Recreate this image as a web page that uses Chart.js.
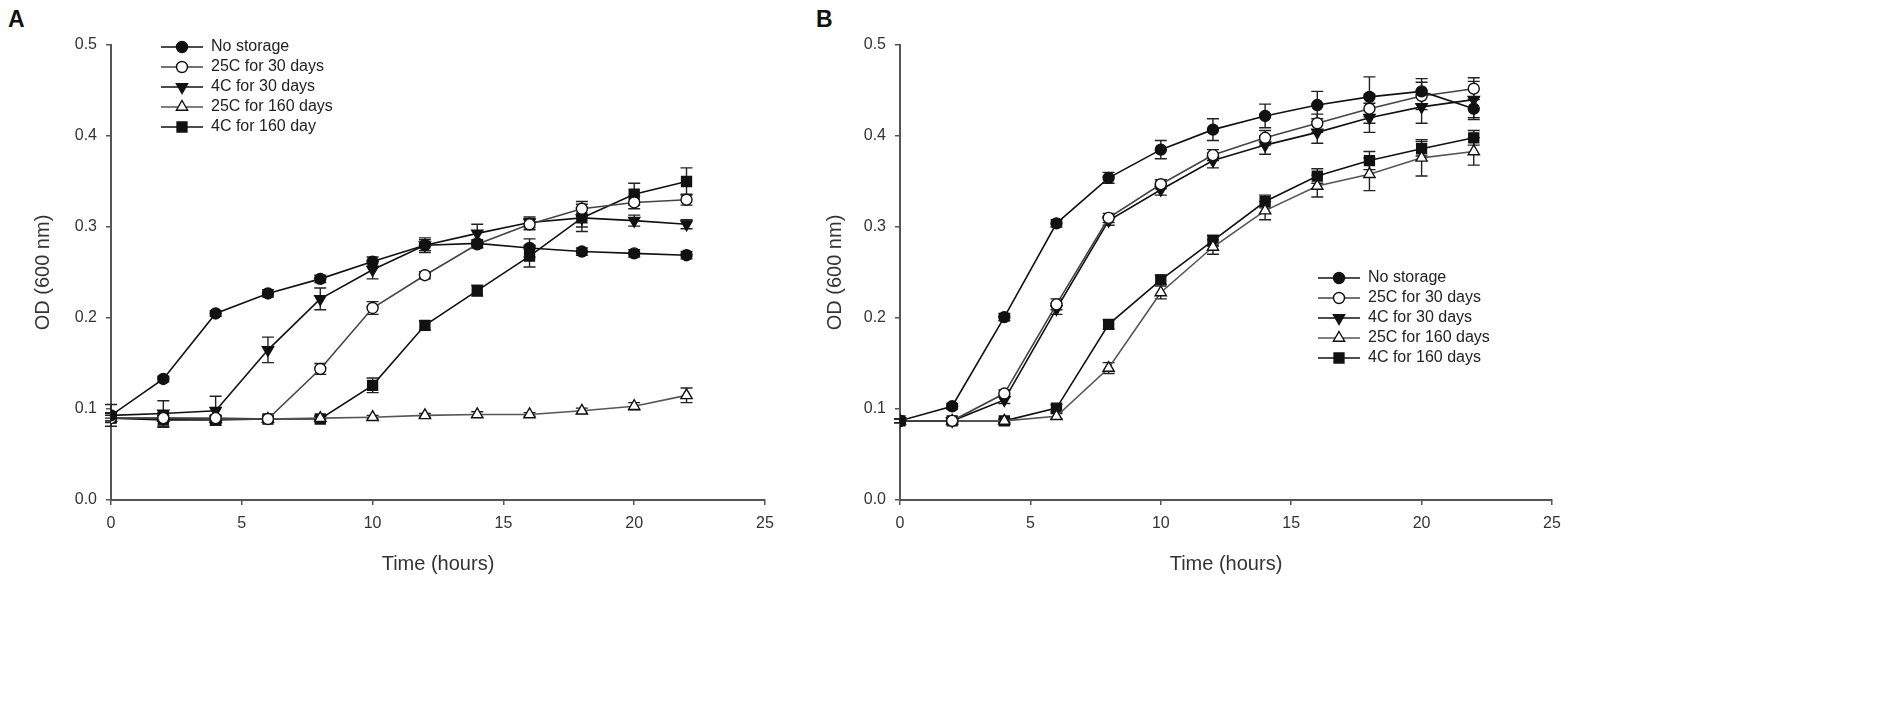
<!DOCTYPE html>
<html>
<head>
  <title>OD growth curves</title>
  <style>
    body { margin: 0; background: #fff; width: 1901px; height: 709px; overflow: hidden; position: relative; font-family: 'Liberation Sans', Arial, sans-serif; }
    .panel-label { position: absolute; top: 6px; font-size: 23px; font-weight: bold; color: #111; }
    canvas { position: absolute; top: 0; }
  </style>
</head>
<body>

  <div class="panel-label" style="left:8px">A</div>
  <div class="panel-label" style="left:816px">B</div>
  <canvas id="chartA" width="800" height="709" style="left:0"></canvas>
  <canvas id="chartB" width="1111" height="709" style="left:790px"></canvas>

  <script src="https://cdn.jsdelivr.net/npm/chart.js"></script>
  <script>
    // sampling times (hours)
    const hours = [0, 2, 4, 6, 8, 10, 12, 14, 16, 18, 20, 22];

    const labelsA = ["No storage", "25C for 30 days", "4C for 30 days", "25C for 160 days", "4C for 160 day"];
    const labelsB = ["No storage", "25C for 30 days", "4C for 30 days", "25C for 160 days", "4C for 160 days"];

    const yTicks = [0.0, 0.1, 0.2, 0.3, 0.4, 0.5];
    const xTicks = [0, 5, 10, 15, 20, 25];

    // panel A - OD(600) means
    const a_noStorage = [0.093, 0.133, 0.205, 0.227, 0.243, 0.262, 0.280, 0.282, 0.277, 0.273, 0.271, 0.269];
    const a_25c30     = [0.090, 0.090, 0.090, 0.089, 0.144, 0.211, 0.247, 0.281, 0.303, 0.320, 0.327, 0.330];
    const a_4c30      = [0.093, 0.095, 0.098, 0.165, 0.221, 0.253, 0.280, 0.293, 0.305, 0.310, 0.307, 0.303];
    const a_25c160    = [0.090, 0.090, 0.089, 0.089, 0.090, 0.091, 0.093, 0.094, 0.094, 0.098, 0.103, 0.115];
    const a_4c160     = [0.090, 0.088, 0.088, 0.089, 0.089, 0.126, 0.192, 0.230, 0.268, 0.310, 0.336, 0.350];

    // panel A - error bars
    const aErr_noStorage = [0.003, 0.003, 0.003, 0.004, 0.004, 0.005, 0.006, 0.004, 0.010, 0.004, 0.004, 0.004];
    const aErr_25c30     = [0.003, 0.003, 0.003, 0.003, 0.006, 0.007, 0.004, 0.004, 0.006, 0.008, 0.007, 0.006];
    const aErr_4c30      = [0.012, 0.014, 0.016, 0.014, 0.012, 0.010, 0.008, 0.010, 0.006, 0.010, 0.006, 0.005];
    const aErr_25c160    = [0.003, 0.003, 0.003, 0.002, 0.002, 0.002, 0.002, 0.003, 0.002, 0.003, 0.004, 0.008];
    const aErr_4c160     = [0.005, 0.008, 0.004, 0.003, 0.003, 0.008, 0.005, 0.006, 0.012, 0.015, 0.012, 0.015];

    // panel B - OD(600) means
    const b_noStorage = [0.087, 0.103, 0.201, 0.304, 0.354, 0.385, 0.407, 0.422, 0.434, 0.443, 0.449, 0.430];
    const b_25c30     = [0.087, 0.087, 0.117, 0.215, 0.310, 0.347, 0.379, 0.398, 0.414, 0.430, 0.444, 0.452];
    const b_4c30      = [0.087, 0.087, 0.110, 0.210, 0.307, 0.341, 0.373, 0.390, 0.404, 0.420, 0.432, 0.440];
    const b_25c160    = [0.087, 0.087, 0.087, 0.092, 0.145, 0.228, 0.278, 0.318, 0.345, 0.358, 0.376, 0.383];
    const b_4c160     = [0.087, 0.087, 0.087, 0.101, 0.193, 0.242, 0.285, 0.328, 0.356, 0.373, 0.386, 0.398];

    // panel B - error bars
    const bErr_noStorage = [0.002, 0.003, 0.004, 0.004, 0.006, 0.010, 0.012, 0.013, 0.015, 0.022, 0.014, 0.012];
    const bErr_25c30     = [0.002, 0.002, 0.004, 0.006, 0.005, 0.005, 0.006, 0.008, 0.010, 0.016, 0.015, 0.012];
    const bErr_4c30      = [0.002, 0.002, 0.004, 0.006, 0.005, 0.006, 0.008, 0.010, 0.012, 0.016, 0.018, 0.020];
    const bErr_25c160    = [0.002, 0.002, 0.002, 0.003, 0.006, 0.007, 0.008, 0.010, 0.012, 0.018, 0.020, 0.015];
    const bErr_4c160     = [0.002, 0.002, 0.002, 0.004, 0.005, 0.005, 0.006, 0.007, 0.008, 0.010, 0.008, 0.008];

    Chart.defaults.font.family = "'Liberation Sans', Arial, sans-serif";
    Chart.defaults.color = "#333";

    // marker look for the 5 series (same order as labels)
    const markers = [
      { style: "circle",   fill: "#111", rot: 0,   r: 5.5, line: "#111" },
      { style: "circle",   fill: "#fff", rot: 0,   r: 5.5, line: "#444" },
      { style: "triangle", fill: "#111", rot: 180, r: 6.5, line: "#111" },
      { style: "triangle", fill: "#fff", rot: 0,   r: 6.5, line: "#555" },
      { style: "rect",     fill: "#111", rot: 0,   r: 7,   line: "#111" }
    ];

    // small line+marker picture for the legend
    function legendIcon(m) {
      const c = document.createElement("canvas");
      c.width = 42; c.height = 16;
      const ctx = c.getContext("2d");
      ctx.strokeStyle = m.line;
      ctx.lineWidth = 1.6;
      ctx.beginPath(); ctx.moveTo(0, 8); ctx.lineTo(42, 8); ctx.stroke();
      ctx.fillStyle = m.fill;
      ctx.strokeStyle = "#111";
      ctx.lineWidth = 1.4;
      Chart.helpers.drawPoint(ctx, { pointStyle: m.style, radius: m.r, rotation: m.rot, borderWidth: 1.4 }, 21, 8);
      return c;
    }
    const icons = markers.map(legendIcon);

    const errorBars = {
      id: "errorBars",
      beforeDatasetsDraw(chart, args, opts) {
        const ctx = chart.ctx;
        const xs = chart.scales.x, ys = chart.scales.y;
        ctx.save();
        ctx.strokeStyle = "#222";
        ctx.lineWidth = 1.4;
        chart.data.datasets.forEach((ds, i) => {
          const errs = opts.errors[i];
          ds.data.forEach((p, j) => {
            const e = errs[j];
            if (!e) return;
            const px = xs.getPixelForValue(p.x);
            const top = ys.getPixelForValue(p.y + e);
            const bot = ys.getPixelForValue(p.y - e);
            ctx.beginPath();
            ctx.moveTo(px, top); ctx.lineTo(px, bot);
            ctx.moveTo(px - 6, top); ctx.lineTo(px + 6, top);
            ctx.moveTo(px - 6, bot); ctx.lineTo(px + 6, bot);
            ctx.stroke();
          });
        });
        ctx.restore();
      }
    };

    // move the chartArea legend to where the figure has it
    const legendPos = {
      id: "legendPos",
      beforeDraw(chart, args, opts) {
        const lg = chart.legend;
        if (!lg) return;
        const w = lg.right - lg.left, h = lg.bottom - lg.top;
        lg.left = opts.x; lg.top = opts.y;
        lg.right = opts.x + w; lg.bottom = opts.y + h;
      }
    };

    function makeDatasets(names, series) {
      return series.map((vals, i) => ({
        label: names[i],
        data: hours.map((h, j) => ({ x: h, y: vals[j] })),
        borderColor: markers[i].line,
        borderWidth: 1.6,
        pointStyle: markers[i].style,
        pointRotation: markers[i].rot,
        pointRadius: markers[i].r,
        pointBackgroundColor: markers[i].fill,
        pointBorderColor: "#111",
        pointBorderWidth: 1.4,
        fill: false,
        tension: 0
      }));
    }

    function makeChart(id, names, series, errs, yAxisWidth, padRight, titleOffset, legendX, legendY) {
      return new Chart(document.getElementById(id), {
        type: "line",
        data: { datasets: makeDatasets(names, series) },
        plugins: [errorBars, legendPos],
        options: {
          responsive: false,
          animation: false,
          events: [],
          layout: { padding: { top: 45, right: padRight, bottom: 133, left: 0 } },
          scales: {
            x: {
              type: "linear",
              min: 0, max: 25,
              afterFit: s => { s.height = 76; },
              afterBuildTicks: s => { s.ticks = xTicks.map(v => ({ value: v })); },
              ticks: { font: { size: 16 }, color: "#333", padding: 9 },
              grid: { drawOnChartArea: false, drawTicks: true, tickLength: 5, color: "#555", lineWidth: 1.5 },
              border: { display: true, color: "#555", width: 2 },
              title: { display: true, text: "Time (hours)", font: { size: 20 }, color: "#333", padding: { top: 0, bottom: 0 } }
            },
            y: {
              min: 0, max: 0.5,
              afterFit: s => { s.width = yAxisWidth; },
              afterBuildTicks: s => { s.ticks = yTicks.map(v => ({ value: v })); },
              ticks: { font: { size: 16 }, color: "#333", padding: 9, callback: v => v.toFixed(1) },
              grid: { drawOnChartArea: false, drawTicks: true, tickLength: 5, color: "#555", lineWidth: 1.5 },
              border: { display: true, color: "#555", width: 2 },
              title: { display: true, text: "OD (600 nm)", font: { size: 20 }, color: "#333", padding: { top: titleOffset, bottom: 0 } }
            }
          },
          plugins: {
            tooltip: { enabled: false },
            errorBars: { errors: errs },
            legendPos: { x: legendX, y: legendY },
            legend: {
              position: "chartArea",
              align: "start",
              labels: {
                usePointStyle: true,
                pointStyleWidth: 42,
                padding: 4,
                color: "#222",
                font: { size: 16 },
                generateLabels: chart => chart.data.datasets.map((ds, i) => ({
                  text: ds.label,
                  pointStyle: icons[i],
                  rotation: 0,
                  fontColor: "#222",
                  hidden: false,
                  datasetIndex: i,
                  lineWidth: 0,
                  strokeStyle: "transparent",
                  fillStyle: "transparent"
                }))
              }
            }
          }
        }
      });
    }

    makeChart("chartA", labelsA,
      [a_noStorage, a_25c30, a_4c30, a_25c160, a_4c160],
      [aErr_noStorage, aErr_25c30, aErr_4c30, aErr_25c160, aErr_4c160],
      111, 35, 31, 157, 35);

    makeChart("chartB", labelsB,
      [b_noStorage, b_25c30, b_4c30, b_25c160, b_4c160],
      [bErr_noStorage, bErr_25c30, bErr_4c30, bErr_25c160, bErr_4c160],
      110, 349, 33, 524, 266);
  </script>
</body>
</html>
